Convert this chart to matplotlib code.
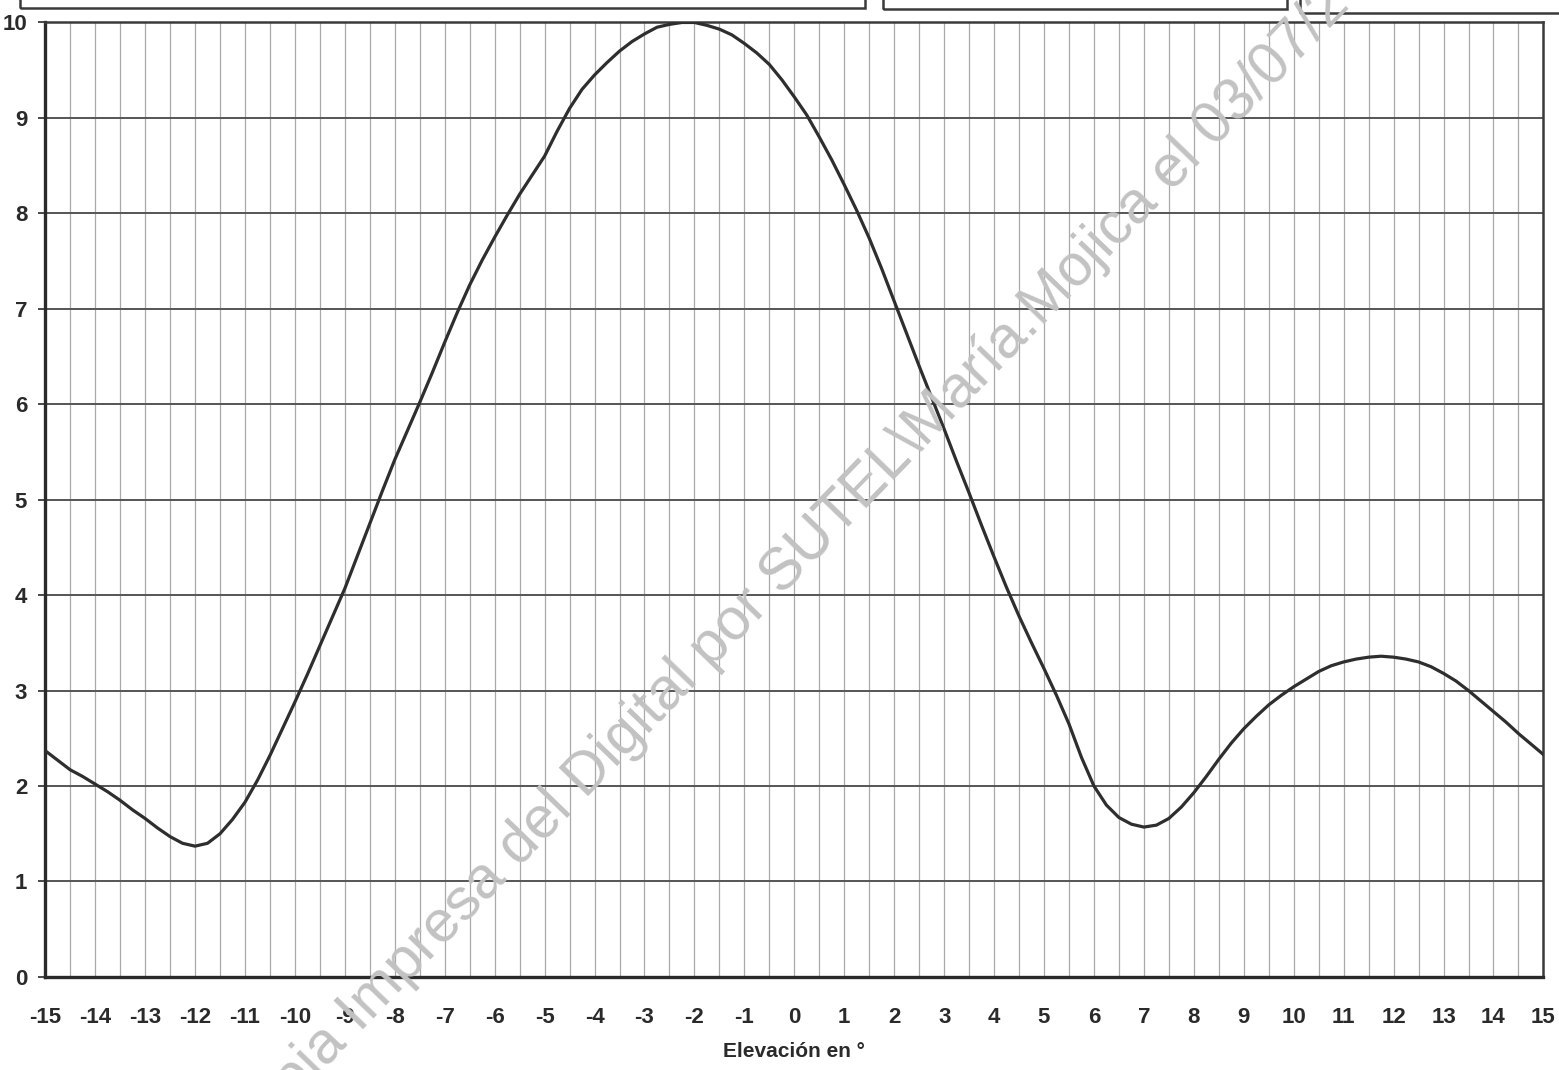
import numpy as np
import matplotlib.pyplot as plt
from matplotlib.patches import Rectangle

# Diagrama de elevación, valores leídos cada 0.25° de -15° a 15°
elevacion = np.arange(-15, 15.001, 0.25)
nivel = [2.37, 2.27, 2.17, 2.10, 2.02, 1.94, 1.85, 1.75, 1.66, 1.56,
         1.47, 1.40, 1.37, 1.40, 1.50, 1.65, 1.83, 2.06, 2.32, 2.60,
         2.88, 3.17, 3.47, 3.77, 4.07, 4.41, 4.75, 5.09, 5.42, 5.72,
         6.02, 6.33, 6.65, 6.96, 7.25, 7.51, 7.75, 7.98, 8.20, 8.40,
         8.60, 8.86, 9.10, 9.30, 9.45, 9.58, 9.70, 9.80, 9.88, 9.95,
         9.98, 10.0, 10.0, 9.97, 9.93, 9.87, 9.78, 9.68, 9.56, 9.40,
         9.22, 9.03, 8.80, 8.56, 8.30, 8.03, 7.74, 7.42, 7.08, 6.74,
         6.40, 6.07, 5.74, 5.40, 5.07, 4.73, 4.40, 4.08, 3.78, 3.50,
         3.23, 2.95, 2.65, 2.30, 2.00, 1.80, 1.67, 1.60, 1.57, 1.59,
         1.66, 1.78, 1.93, 2.10, 2.28, 2.45, 2.60, 2.73, 2.85, 2.95,
         3.04, 3.12, 3.20, 3.26, 3.30, 3.33, 3.35, 3.36, 3.35, 3.33,
         3.30, 3.25, 3.18, 3.10, 3.00, 2.89, 2.78, 2.67, 2.55, 2.44, 2.33]

xticks = list(range(-15, 16))
yticks = list(range(0, 11))

plt.rcParams['font.family'] = ['Liberation Sans', 'DejaVu Sans']

fig = plt.figure(figsize=(15.59, 10.70), dpi=100)
ax = fig.add_axes([0.029, 0.087, 0.961, 0.892])

# cuadrícula: líneas verticales cada 0.5°, horizontales cada unidad
for xv in np.arange(-14.5, 15, 0.5):
    ax.axvline(xv, color='#949494', lw=0.9, alpha=0.8, zorder=1)
for yv in yticks[1:]:
    ax.axhline(yv, color='#555555', lw=1.4, zorder=1)

ax.plot(elevacion, nivel, color='#2e2e2e', lw=2.3, zorder=3)

ax.set_xlim(-15, 15)
ax.set_ylim(0, 10)
ax.set_xticks(xticks)
ax.set_xticklabels([str(t) for t in xticks])
ax.set_yticks(yticks)
ax.set_yticklabels([str(t) for t in yticks])
ax.tick_params(axis='x', length=0, pad=22, labelsize=16, colors='#2a2a2a')
ax.tick_params(axis='y', length=5, width=1.2, pad=8, labelsize=16, colors='#2a2a2a')
for lab in ax.get_xticklabels() + ax.get_yticklabels():
    lab.set_fontweight('bold')

for side in ['left', 'bottom']:
    ax.spines[side].set_linewidth(2.4)
    ax.spines[side].set_color('#2a2a2a')
for side in ['top', 'right']:
    ax.spines[side].set_linewidth(1.8)
    ax.spines[side].set_color('#3a3a3a')

ax.set_xlabel('Elevación en °', fontsize=15, fontweight='bold', color='#2a2a2a', labelpad=10)

# recuadros del formulario que quedan encima del gráfico
for x0, x1, yb in [(20, 865, 8), (883, 1287, 9), (1300, 1580, 13)]:
    fig.add_artist(Rectangle((x0 / 1559, 1 - yb / 1070), (x1 - x0) / 1559, 0.05,
                             transform=fig.transFigure, fill=False,
                             edgecolor='#3a3a3a', lw=1.8, clip_on=False))

# marca de agua
fig.text(819 / 1559, 1 - 534 / 1070,
         'Copia Impresa del Digital por SUTEL\\María.Mojica el 03/07/2018',
         rotation=46, rotation_mode='anchor', ha='center', va='center',
         fontsize=42.5, color='#c2c2c2', zorder=10)

fig.savefig('out.png', dpi=100)
